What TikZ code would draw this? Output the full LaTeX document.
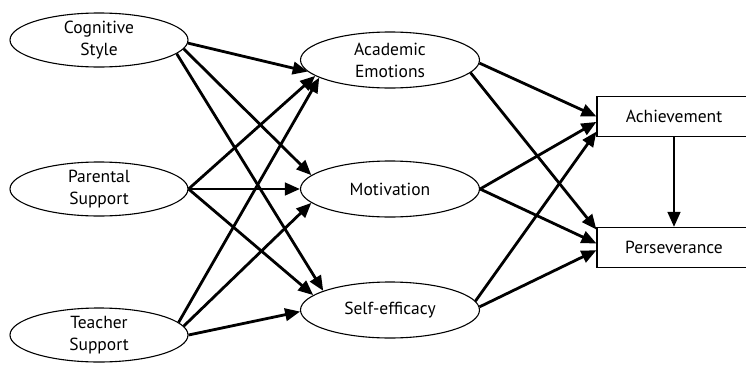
\documentclass[tikz,border=0pt]{standalone}
\usepackage{fontspec}
\setmainfont{PT Sans}
\usetikzlibrary{shapes.geometric,arrows.meta}
\begin{document}
\begin{tikzpicture}[x=1pt,y=-1pt,
  lbl/.style={font=\fontsize{17.5}{22}\selectfont,align=center},
  oval/.style={lbl,ellipse,draw,line width=1.1pt,minimum width=178pt,minimum height=54pt,inner sep=0pt},
  midoval/.style={oval,minimum width=179pt,minimum height=56pt},
  outbox/.style={lbl,rectangle,draw,line width=1.1pt,minimum width=154pt,minimum height=40pt,inner sep=0pt},
  link/.style={line width=2.8pt,-{Triangle[length=15pt,width=12.5pt]}}
]
\useasboundingbox (0,0) rectangle (746,367);
\clip (0,0) rectangle (746,367);

\node[oval] (cog) at (99,40) {Cognitive\\Style};
\node[oval] (par) at (99,189) {Parental\\Support};
\node[oval] (tea) at (99,335) {Teacher\\Support};

\node[midoval] (ae) at (390,60) {Academic\\Emotions};
\node[midoval] (mot) at (390,189) {Motivation};
\node[midoval] (se) at (390,310) {Self-efficacy};

\node[outbox] (ach) at (674,116.5) {Achievement};
\node[outbox] (per) at (674,247.5) {Perseverance};

% left to middle
\draw[link] (cog.-2) -- (ae.188);
\draw[link] (cog.-6) -- (mot.170);
\draw[link] (cog.-10) -- (se.164);

\draw[link] (par.east) -- (ae.192);
\draw[link] (par.east) -- (mot.west);
\draw[link] (par.east) -- (se.169);

\draw[link] (tea.9) -- (ae.194);
\draw[link] (tea.6) -- (mot.190);
\draw[link] (tea.0) -- (se.181);

% middle to right
\draw[link] (ae.-2) -- (ach.180);
\draw[link] (ae.-9) -- (per.167);
\draw[link] (mot.east) -- (ach.184);
\draw[link] (mot.east) -- (per.177);
\draw[link] (se.6) -- (ach.191);
\draw[link] (se.2) -- (per.182);

\draw[link] (ach.south) -- (per.north);
\end{tikzpicture}
\end{document}
